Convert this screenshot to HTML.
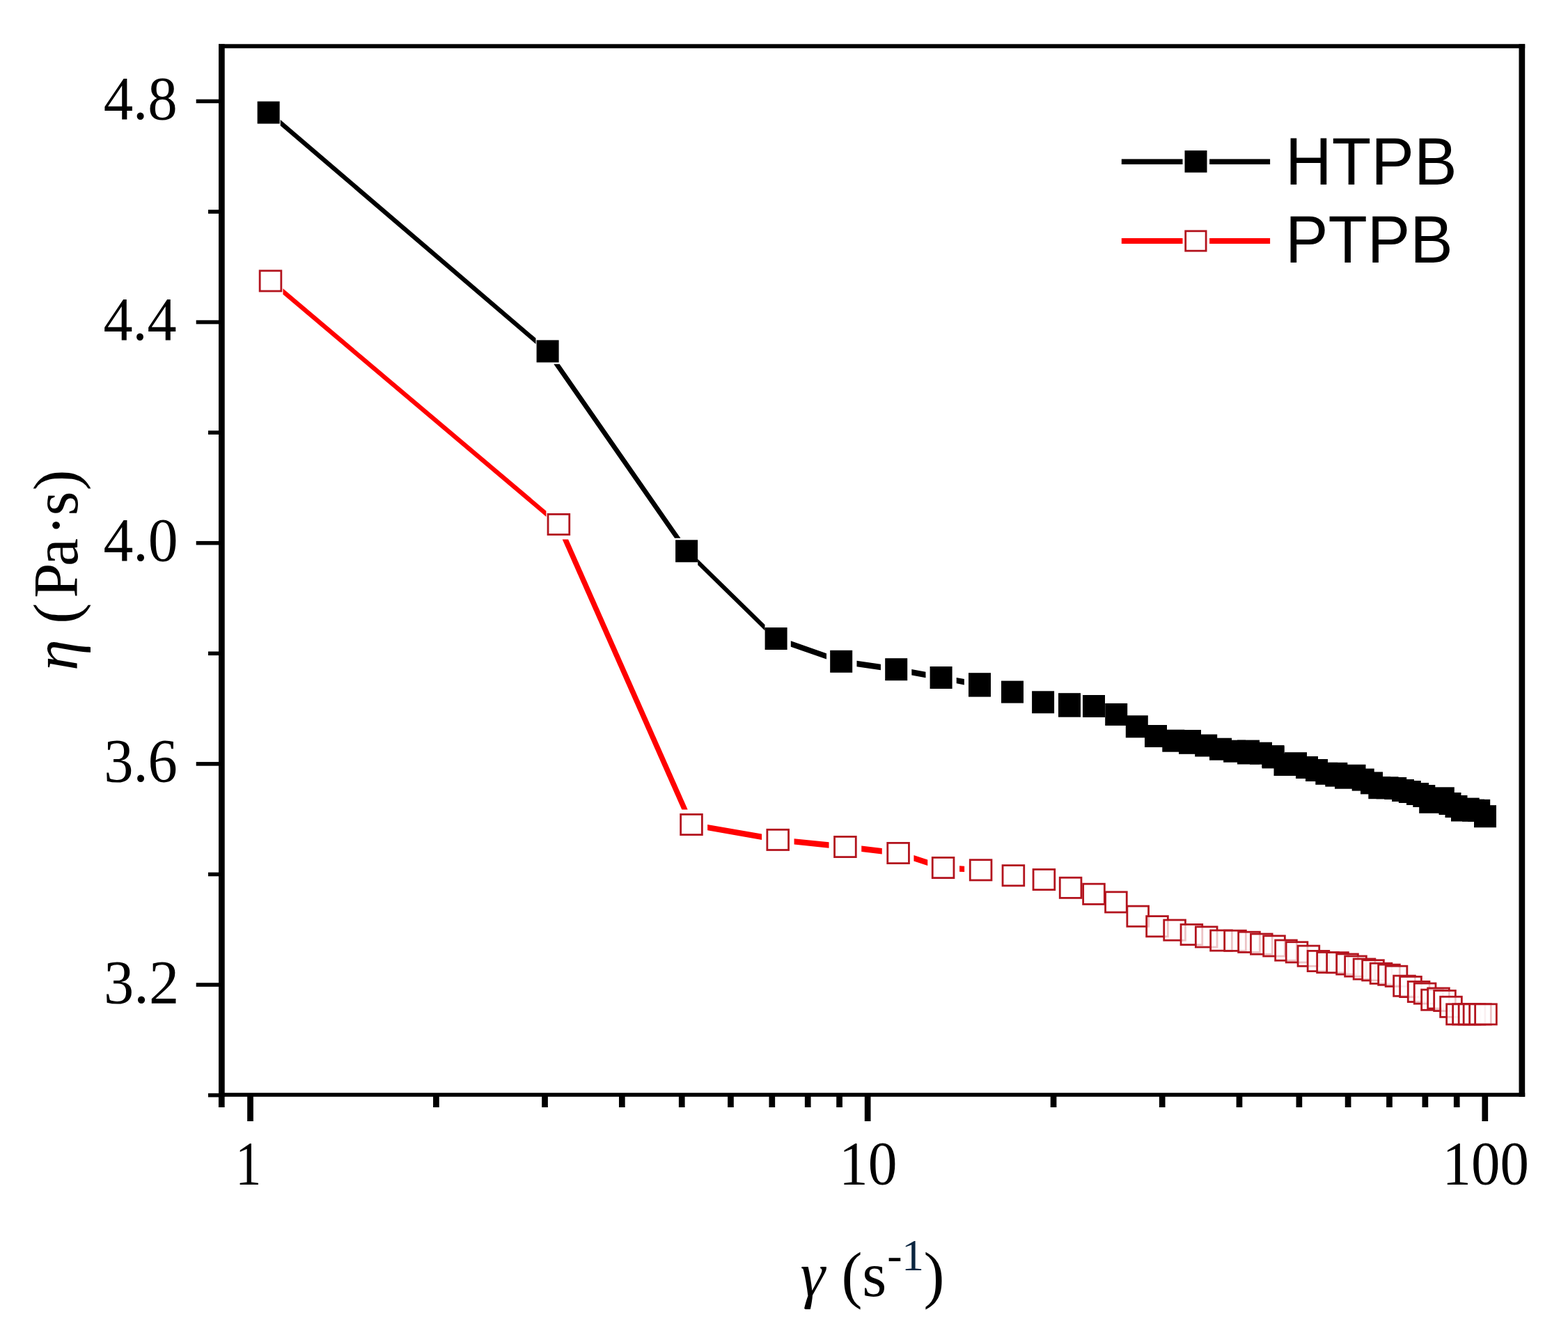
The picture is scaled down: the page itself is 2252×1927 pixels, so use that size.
<!DOCTYPE html>
<html><head><meta charset="utf-8"><title>Viscosity vs shear rate</title>
<style>
html,body{margin:0;padding:0;background:#fff;}
body{width:2252px;height:1927px;overflow:hidden;}
svg{display:block;}
.serif{font-family:"Liberation Serif","Times New Roman",serif;}
.sans{font-family:"Liberation Sans",Arial,sans-serif;}
</style></head><body>
<svg width="2252" height="1927" viewBox="0 0 2252 1927">
<rect x="0" y="0" width="2252" height="1927" fill="#fff"/>
<g fill="#000">
<polygon points="402.75,172.02 769.5,485.58 769.5,493.98 402.75,180.42"/>
<polygon points="795.25,522.87 969.05,772.83 977.45,772.83 803.65,522.87"/>
<polygon points="1002.18,802.83 1098.52,897.07 1098.52,905.47 1002.18,811.23"/>
<polygon points="1135.83,920.24 1186.97,938.16 1186.97,946.56 1135.83,928.64"/>
<polygon points="1230.47,948.81 1264.93,953.79 1264.93,962.19 1230.47,957.21"/>
<polygon points="1309.33,961.06 1329.47,964.74 1329.47,973.14 1309.33,969.46"/>
<polygon points="1373.71,972.95 1384.89,975.05 1384.89,983.45 1373.71,981.35"/>
</g>
<g fill="#ff0000">
<polygon points="406.45,414.36 784.45,733.64 784.45,742.04 406.45,422.76"/>
<polygon points="807.7,774.49 979.3,1162.51 987.7,1162.51 816.1,774.49"/>
<polygon points="1016.14,1183.88 1094.06,1197.62 1094.06,1206.02 1016.14,1192.28"/>
<polygon points="1140.57,1204.14 1190.53,1209.36 1190.53,1217.76 1140.57,1212.54"/>
<polygon points="1237.24,1214.56 1266.76,1218.04 1266.76,1226.44 1237.24,1222.96"/>
<polygon points="1312.45,1228.08 1332.25,1234.52 1332.25,1242.92 1312.45,1236.48"/>
<polygon points="1378.06,1243.23 1385.14,1243.67 1385.14,1252.07 1378.06,1251.63"/>
</g>
<g fill="#000">
<rect x="369.65" y="145.6" width="32" height="32"/>
<rect x="770.6" y="488.4" width="32" height="32"/>
<rect x="970.1" y="775.3" width="32" height="32"/>
<rect x="1098.6" y="901" width="32" height="32"/>
<rect x="1192.2" y="933.8" width="32" height="32"/>
<rect x="1271.2" y="945.2" width="32" height="32"/>
<rect x="1335.6" y="957" width="32" height="32"/>
<rect x="1391" y="966.2" width="32" height="32"/>
<rect x="1391" y="968.6" width="32" height="32"/>
<rect x="1438" y="977.6" width="32" height="32"/>
<rect x="1482.1" y="992.3" width="32" height="32"/>
<rect x="1520" y="995.2" width="32" height="32"/>
<rect x="1520" y="997.7" width="32" height="32"/>
<rect x="1555" y="998" width="32" height="32"/>
<rect x="1587.2" y="1009.9" width="32" height="32"/>
<rect x="1616.8" y="1027.3" width="32" height="32"/>
<rect x="1644" y="1041" width="32" height="32"/>
<rect x="1669.3" y="1047.7" width="32" height="32"/>
<rect x="1693" y="1048" width="32" height="32"/>
<rect x="1693" y="1050.8" width="32" height="32"/>
<rect x="1716.2" y="1054.5" width="32" height="32"/>
<rect x="1737" y="1059.7" width="32" height="32"/>
<rect x="1757.1" y="1062.7" width="32" height="32"/>
<rect x="1777" y="1062.6" width="32" height="32"/>
<rect x="1777" y="1065.5" width="32" height="32"/>
<rect x="1795" y="1065.7" width="32" height="32"/>
<rect x="1812.5" y="1070.1" width="32" height="32"/>
<rect x="1812.5" y="1071.4" width="32" height="32"/>
<rect x="1829.5" y="1082" width="32" height="32"/>
<rect x="1845" y="1080.2" width="32" height="32"/>
<rect x="1861" y="1086" width="32" height="32"/>
<rect x="1875" y="1090" width="32" height="32"/>
<rect x="1889.3" y="1094.8" width="32" height="32"/>
<rect x="1903.3" y="1094.9" width="32" height="32"/>
<rect x="1903.3" y="1097.6" width="32" height="32"/>
<rect x="1917" y="1100.7" width="32" height="32"/>
<rect x="1929.5" y="1097.8" width="32" height="32"/>
<rect x="1941.7" y="1103.6" width="32" height="32"/>
<rect x="1954" y="1108.4" width="32" height="32"/>
<rect x="1965.3" y="1115.2" width="32" height="32"/>
<rect x="1976.6" y="1115.3" width="32" height="32"/>
<rect x="1988.2" y="1116" width="32" height="32"/>
<rect x="1999" y="1119" width="32" height="32"/>
<rect x="2008.8" y="1121" width="32" height="32"/>
<rect x="2020" y="1124" width="32" height="32"/>
<rect x="2029.3" y="1127" width="32" height="32"/>
<rect x="2038.2" y="1135.8" width="32" height="32"/>
<rect x="2047.6" y="1133" width="32" height="32"/>
<rect x="2056.8" y="1130.3" width="32" height="32"/>
<rect x="2066.5" y="1138" width="32" height="32"/>
<rect x="2075.5" y="1142" width="32" height="32"/>
<rect x="2084" y="1147.5" width="32" height="32"/>
<rect x="2092.7" y="1145.6" width="32" height="32"/>
<rect x="2100" y="1147.7" width="32" height="32"/>
<rect x="2108.2" y="1147.9" width="32" height="32"/>
<rect x="2117" y="1156.2" width="32" height="32"/>
</g>
<g fill="#fff" fill-opacity="0.75" stroke="#b3141e" stroke-width="2.8">
<rect x="373.15" y="388.8" width="30.7" height="29.2"/>
<rect x="787.05" y="738.4" width="30.7" height="29.2"/>
<rect x="977.65" y="1169.4" width="30.7" height="29.2"/>
<rect x="1101.85" y="1191.3" width="30.7" height="29.2"/>
<rect x="1198.55" y="1201.4" width="30.7" height="29.2"/>
<rect x="1274.75" y="1210.4" width="30.7" height="29.2"/>
<rect x="1339.25" y="1231.4" width="30.7" height="29.2"/>
<rect x="1393.25" y="1234.7" width="30.7" height="29.2"/>
<rect x="1440.05" y="1242.6" width="30.7" height="29.2"/>
<rect x="1484.05" y="1248.4" width="30.7" height="29.2"/>
<rect x="1522.25" y="1260.2" width="30.7" height="29.2"/>
<rect x="1555.65" y="1269.2" width="30.7" height="29.2"/>
<rect x="1587.55" y="1280.8" width="30.7" height="29.2"/>
<rect x="1618.85" y="1301.1" width="30.7" height="29.2"/>
<rect x="1646.65" y="1315.6" width="30.7" height="29.2"/>
<rect x="1671.75" y="1321" width="30.7" height="29.2"/>
<rect x="1696.05" y="1327.4" width="30.7" height="29.2"/>
<rect x="1717.35" y="1330.8" width="30.7" height="29.2"/>
<rect x="1738.65" y="1335.9" width="30.7" height="29.2"/>
<rect x="1758.65" y="1336.2" width="30.7" height="29.2"/>
<rect x="1778.65" y="1338.2" width="30.7" height="29.2"/>
<rect x="1796.45" y="1341" width="30.7" height="29.2"/>
<rect x="1814.65" y="1343.8" width="30.7" height="29.2"/>
<rect x="1831.65" y="1350" width="30.7" height="29.2"/>
<rect x="1847.15" y="1352.7" width="30.7" height="29.2"/>
<rect x="1864.05" y="1358.1" width="30.7" height="29.2"/>
<rect x="1878.15" y="1365.4" width="30.7" height="29.2"/>
<rect x="1891.65" y="1367.4" width="30.7" height="29.2"/>
<rect x="1905.65" y="1367.6" width="30.7" height="29.2"/>
<rect x="1919.65" y="1369.9" width="30.7" height="29.2"/>
<rect x="1931.65" y="1372.9" width="30.7" height="29.2"/>
<rect x="1944.15" y="1376.9" width="30.7" height="29.2"/>
<rect x="1956.65" y="1378.7" width="30.7" height="29.2"/>
<rect x="1968.15" y="1383.2" width="30.7" height="29.2"/>
<rect x="1979.65" y="1385.1" width="30.7" height="29.2"/>
<rect x="1990.15" y="1387.2" width="30.7" height="29.2"/>
<rect x="2001.65" y="1401.1" width="30.7" height="29.2"/>
<rect x="2010.65" y="1402.4" width="30.7" height="29.2"/>
<rect x="2022.25" y="1409.4" width="30.7" height="29.2"/>
<rect x="2031.25" y="1412" width="30.7" height="29.2"/>
<rect x="2041.65" y="1421.1" width="30.7" height="29.2"/>
<rect x="2050.65" y="1418.9" width="30.7" height="29.2"/>
<rect x="2059.65" y="1422.4" width="30.7" height="29.2"/>
<rect x="2068.65" y="1431.2" width="30.7" height="29.2"/>
<rect x="2077.65" y="1441.8" width="30.7" height="29.2"/>
<rect x="2086.65" y="1441.8" width="30.7" height="29.2"/>
<rect x="2095.15" y="1441.8" width="30.7" height="29.2"/>
<rect x="2102.15" y="1441.8" width="30.7" height="29.2"/>
<rect x="2110.65" y="1441.8" width="30.7" height="29.2"/>
<rect x="2118.65" y="1441.8" width="30.7" height="29.2"/>
</g>
<g fill="#000">
<rect x="314" y="63.3" width="8.7" height="1511.5"/>
<rect x="2181.5" y="63.3" width="8.7" height="1511.5"/>
<rect x="314" y="63.3" width="1876.2" height="6"/>
<rect x="314" y="1569.2" width="1876.2" height="5.6"/>
<rect x="281.7" y="142.6" width="33" height="5.6"/>
<rect x="281.7" y="459.76" width="33" height="5.6"/>
<rect x="281.7" y="776.92" width="33" height="5.6"/>
<rect x="281.7" y="1094.08" width="33" height="5.6"/>
<rect x="281.7" y="1411.24" width="33" height="5.6"/>
<rect x="299" y="301.18" width="16" height="5.6"/>
<rect x="299" y="618.34" width="16" height="5.6"/>
<rect x="299" y="935.5" width="16" height="5.6"/>
<rect x="299" y="1252.66" width="16" height="5.6"/>
<rect x="299" y="1569.82" width="16" height="5.6"/>
<rect x="355.15" y="1574" width="8.7" height="36"/>
<rect x="1241.8" y="1574" width="8.7" height="36"/>
<rect x="2128.45" y="1574" width="8.7" height="36"/>
<rect x="313.92" y="1574" width="8.7" height="16"/>
<rect x="622.06" y="1574" width="8.7" height="16"/>
<rect x="778.19" y="1574" width="8.7" height="16"/>
<rect x="888.97" y="1574" width="8.7" height="16"/>
<rect x="974.89" y="1574" width="8.7" height="16"/>
<rect x="1045.1" y="1574" width="8.7" height="16"/>
<rect x="1104.46" y="1574" width="8.7" height="16"/>
<rect x="1155.87" y="1574" width="8.7" height="16"/>
<rect x="1201.23" y="1574" width="8.7" height="16"/>
<rect x="1508.71" y="1574" width="8.7" height="16"/>
<rect x="1664.84" y="1574" width="8.7" height="16"/>
<rect x="1775.62" y="1574" width="8.7" height="16"/>
<rect x="1861.54" y="1574" width="8.7" height="16"/>
<rect x="1931.75" y="1574" width="8.7" height="16"/>
<rect x="1991.11" y="1574" width="8.7" height="16"/>
<rect x="2042.52" y="1574" width="8.7" height="16"/>
<rect x="2087.88" y="1574" width="8.7" height="16"/>
</g>
<rect x="1610.8" y="228.4" width="87.7" height="7.6" fill="#000"/>
<rect x="1737.1" y="228.4" width="87" height="7.6" fill="#000"/>
<rect x="1701.5" y="216.1" width="32" height="31.6" fill="#000"/>
<rect x="1610.8" y="342" width="87.7" height="8" fill="#ff0000"/>
<rect x="1737.1" y="342" width="87" height="8" fill="#ff0000"/>
<rect x="1702.7" y="331.8" width="29.4" height="28.4" fill="#fff" stroke="#b3141e" stroke-width="2.8"/>
<g fill="#000">
<text class="serif" font-size="88" transform="translate(148.64,171.00) scale(0.9654,1)">4.8</text>
<text class="serif" font-size="88" transform="translate(148.46,488.16) scale(0.9569,1)">4.4</text>
<text class="serif" font-size="88" transform="translate(148.42,805.32) scale(0.9749,1)">4.0</text>
<text class="serif" font-size="88" transform="translate(149.15,1122.48) scale(0.9615,1)">3.6</text>
<text class="serif" font-size="88" transform="translate(149.06,1439.64) scale(0.9828,1)">3.2</text>
<text class="serif" font-size="88" transform="translate(338.06,1700.00) scale(0.8500,1)">1</text>
<text class="serif" font-size="88" transform="translate(1205.06,1700.00) scale(0.9491,1)">10</text>
<text class="serif" font-size="88" transform="translate(2071.61,1700.00) scale(0.9420,1)">100</text>
<text class="sans" font-size="97" transform="translate(1846.01,265.00) scale(0.9535,1)">HTPB</text>
<text class="sans" font-size="97" transform="translate(1846.04,376.80) scale(0.9502,1)">PTPB</text>
</g>
<text class="serif" font-size="90" fill="#000"><tspan x="1149.4" y="1861" font-style="italic">γ </tspan><tspan x="1208.6" y="1861">(</tspan><tspan x="1238.3" y="1861">s</tspan><tspan x="1274.2" y="1824" font-size="64">-</tspan><tspan x="1294.9" y="1824" font-size="64" fill="#0a2540">1</tspan><tspan x="1326.6" y="1861">)</tspan></text>
<text class="serif" font-size="90" fill="#000" transform="translate(110.5,962) rotate(-90)"><tspan x="-1.1" y="0" font-style="italic">η </tspan><tspan x="66.2" y="0">(</tspan><tspan x="103.2" y="0">P</tspan><tspan x="148.9" y="0">a</tspan><tspan x="192.8" y="0">·</tspan><tspan x="221.5" y="0">s</tspan><tspan x="257.4" y="0">)</tspan></text>

</svg>
</body></html>
